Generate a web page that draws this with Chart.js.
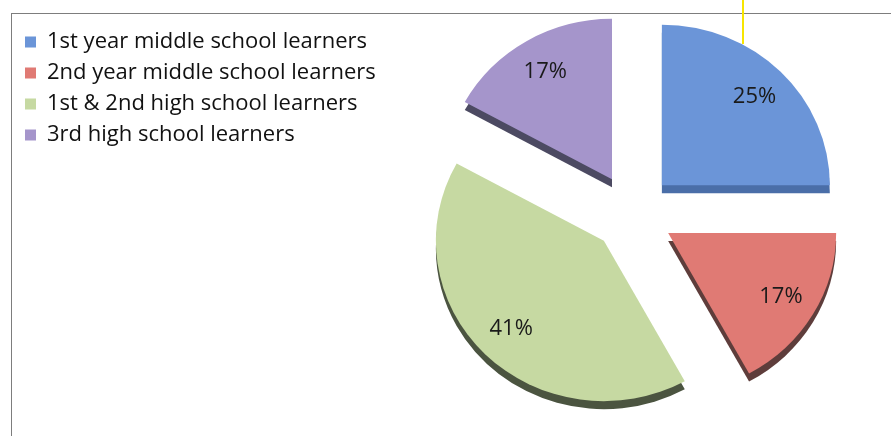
<!DOCTYPE html>
<html>
<head>
<meta charset="utf-8">
<script src="https://cdn.jsdelivr.net/npm/chart.js@4/dist/chart.umd.min.js"></script>
<style>
    body { margin: 0; background: #ffffff; }
    #wrap { position: relative; width: 891px; height: 436px; overflow: hidden; }
    #frame {
        position: absolute; left: 11px; top: 13px; width: 900px; height: 440px;
        border-top: 1px solid #7d7d7d; border-left: 1px solid #7d7d7d;
    }
    #marker { position: absolute; left: 742px; top: 0; width: 2px; height: 44px; background: #f7e500; }
    canvas { position: absolute; left: 0; top: 0; }
</style>
</head>
<body>
<div id="wrap">
    <div id="frame"></div>
    <canvas id="learnersChart" width="891" height="436"></canvas>
    <div id="marker"></div>
</div>
<script>
const categories = [
    '1st year middle school learners',
    '2nd year middle school learners',
    '1st & 2nd high school learners',
    '3rd high school learners'
];
const shares = [25, 17, 41, 17];
const faceColors = ['#6b95d8', '#e07a74', '#c6d9a2', '#a595cb'];
const sideColors = ['#4a6ea8', '#5e3d3b', '#4b5440', '#4c4a62'];

// how far each slice is pulled out, slab thickness and vertical squash of the disc
const EXPLODE = 41;
const DEPTH = 8;
const TILT = 0.955;

function sliceShift(arc) {
    const mid = (arc.startAngle + arc.endAngle) / 2;
    return { dx: Math.cos(mid) * EXPLODE, dy: Math.sin(mid) * EXPLODE, mid: mid };
}

function tiltAround(ctx, arc) {
    ctx.translate(arc.x, arc.y);
    ctx.scale(1, TILT);
    ctx.translate(-arc.x, -arc.y);
}

// pie that pulls every slice out by the same distance without resizing it
class ExplodedPieController extends Chart.PieController {
    draw() {
        const ctx = this.chart.ctx;
        const area = this.chart.chartArea;
        this._cachedMeta.data.forEach(function(arc) {
            const s = sliceShift(arc);
            ctx.save();
            tiltAround(ctx, arc);
            ctx.translate(s.dx, s.dy);
            arc.draw(ctx, area);
            ctx.restore();
        });
    }
}
ExplodedPieController.id = 'explodedPie';
Chart.register(ExplodedPieController);

// dark slab under each slice for the 3D look
const slabPlugin = {
    id: 'slab',
    beforeDatasetsDraw(chart) {
        const ctx = chart.ctx;
        chart.getDatasetMeta(0).data.forEach(function(arc, i) {
            const s = sliceShift(arc);
            ctx.save();
            ctx.translate(0, DEPTH);
            tiltAround(ctx, arc);
            const cx = arc.x + s.dx;
            const cy = arc.y + s.dy;
            ctx.beginPath();
            ctx.moveTo(cx, cy);
            ctx.arc(cx, cy, arc.outerRadius, arc.startAngle, arc.endAngle);
            ctx.closePath();
            ctx.fillStyle = sideColors[i];
            ctx.fill();
            ctx.restore();
        });
    }
};

// percentage text on each slice
const percentPlugin = {
    id: 'percentLabels',
    afterDatasetsDraw(chart) {
        const ctx = chart.ctx;
        const values = chart.data.datasets[0].data;
        ctx.save();
        ctx.font = '22px "Open Sans"';
        ctx.fillStyle = '#1a1a1a';
        ctx.textAlign = 'center';
        ctx.textBaseline = 'middle';
        chart.getDatasetMeta(0).data.forEach(function(arc, i) {
            const s = sliceShift(arc);
            const d = EXPLODE + arc.outerRadius * 0.78;
            ctx.fillText(values[i] + '%', arc.x + Math.cos(s.mid) * d, arc.y + Math.sin(s.mid) * d * TILT);
        });
        ctx.restore();
    }
};

new Chart(document.getElementById('learnersChart').getContext('2d'), {
    type: 'explodedPie',
    data: {
        labels: categories,
        datasets: [{
            data: shares,
            backgroundColor: faceColors,
            borderWidth: 0,
            radius: 168,
            clip: false
        }]
    },
    options: {
        responsive: false,
        animation: false,
        events: [],
        layout: {
            padding: { left: 16, top: 22, right: 11, bottom: 32 }
        },
        plugins: {
            legend: {
                position: 'left',
                align: 'start',
                labels: {
                    color: '#111111',
                    boxWidth: 11,
                    boxHeight: 11,
                    padding: 9,
                    font: { family: 'Open Sans', size: 22 }
                }
            },
            tooltip: { enabled: false }
        }
    },
    plugins: [slabPlugin, percentPlugin]
});
</script>
</body>
</html>
